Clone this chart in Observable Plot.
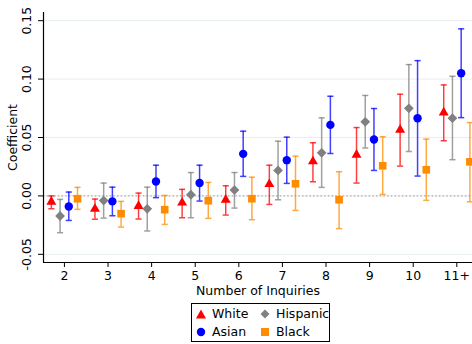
<!DOCTYPE html>
<html>
<head>
<meta charset="utf-8">
<script src="https://cdn.jsdelivr.net/npm/d3@7"></script>
<script src="https://cdn.jsdelivr.net/npm/@observablehq/plot@0.6"></script>
<style>
  body { margin: 0; background: white; font-family: "DejaVu Sans", sans-serif; }
  #wrap { width: 472px; height: 344px; position: relative; }
  #legend { position: absolute; left: 191px; top: 303px; width: 137px; height: 37px; border: 1px solid #000;
            font-size: 12.5px; color: #000; box-sizing: content-box; background: white; }
  .item { position: absolute; display: flex; align-items: center; height: 18px; line-height: 18px; }
  .item svg { margin-right: 5px; }
</style>
</head>
<body>
<div id="wrap"></div>
<script>
const categories = ["2", "3", "4", "5", "6", "7", "8", "9", "10", "11+"];
const groups = ["White", "Hispanic", "Asian", "Black"];
const colors = ["#ff0000", "#808080", "#0000ff", "#ff8c00"];
const symbols = ["triangle", "diamond2", "circle", "square"];

const whiteCoef = [-0.005, -0.011, -0.0087, -0.0058, -0.0033, 0.010, 0.0295, 0.0352, 0.0566, 0.0714];
const whiteLo   = [-0.011, -0.020, -0.0198, -0.0187, -0.0164, -0.0073, 0.0121, 0.011, 0.0255, 0.0472];
const whiteHi   = [0.000, -0.0027, 0.0024, 0.0056, 0.0087, 0.0263, 0.0455, 0.0585, 0.087, 0.095];

const hispCoef = [-0.0172, -0.004, -0.011, 0.001, 0.005, 0.0218, 0.0369, 0.0634, 0.075, 0.0665];
const hispLo   = [-0.0315, -0.019, -0.030, -0.0187, -0.0104, -0.0033, 0.0073, 0.041, 0.038, 0.031];
const hispHi   = [-0.003, 0.011, 0.0075, 0.020, 0.020, 0.0468, 0.0668, 0.086, 0.1124, 0.1024];

const asianCoef = [-0.009, -0.0047, 0.0124, 0.011, 0.036, 0.0306, 0.0608, 0.0483, 0.0665, 0.105];
const asianLo   = [-0.021, -0.017, -0.0015, -0.0044, 0.0167, 0.0107, 0.0363, 0.0218, 0.017, 0.067];
const asianHi   = [0.0033, 0.0075, 0.0263, 0.0263, 0.0554, 0.0503, 0.0853, 0.0748, 0.1158, 0.143];

const blackCoef = [-0.0024, -0.0152, -0.0118, -0.0041, -0.0024, 0.0104, -0.0033, 0.0258, 0.0224, 0.0292];
const blackLo   = [-0.0115, -0.0267, -0.0244, -0.0192, -0.0204, -0.0124, -0.028, 0.0013, -0.0038, -0.005];
const blackHi   = [0.0073, -0.0047, 0.0004, 0.0115, 0.016, 0.034, 0.0207, 0.0506, 0.0486, 0.0628];

const yTicks = [-0.05, 0, 0.05, 0.10, 0.15];

const series = [
  [whiteCoef, whiteLo, whiteHi],
  [hispCoef, hispLo, hispHi],
  [asianCoef, asianLo, asianHi],
  [blackCoef, blackLo, blackHi]
];
const offsets = [-0.3, -0.1, 0.1, 0.3];
const rows = [];
series.forEach(([c, lo, hi], g) => {
  categories.forEach((cat, i) => {
    rows.push({group: groups[g], gi: g, x: i + offsets[g], coef: c[i], lo: lo[i], hi: hi[i]});
  });
});

const xDom = [-0.48, 9.36];
const yDom = [-0.057, 0.157];
const cap = 0.07;
const radii = [3.7, 4.4, 4.2, 4.3];
const fmt = d => d3.format(".2f")(d).replace("\u2212", "-");

const marks = [
  Plot.gridY(yTicks, {stroke: "#e6efef", strokeOpacity: 1}),
  Plot.ruleY([0], {stroke: "#999", strokeDasharray: "1.5,2.2"}),
  Plot.axisY({ticks: yTicks, tickFormat: fmt, tickRotate: -90, tickSize: 5, tickPadding: 8,
              label: "Coefficient", labelAnchor: "center", labelArrow: "none", labelOffset: 35}),
  Plot.axisX({ticks: d3.range(categories.length), tickFormat: i => categories[i], tickSize: 5,
              label: "Number of Inquiries", labelAnchor: "center", labelArrow: "none", labelOffset: 32}),
  Plot.ruleY([yDom[0]], {stroke: "black", strokeWidth: 1.2}),
  Plot.ruleX([xDom[0]], {stroke: "black", strokeWidth: 1.2})
];
groups.forEach((g, gi) => {
  const d = rows.filter(r => r.gi === gi);
  marks.push(
    Plot.ruleX(d, {x: "x", y1: "lo", y2: "hi", stroke: colors[gi], strokeWidth: 1.5, strokeOpacity: 0.75}),
    Plot.link(d, {x1: r => r.x - cap, x2: r => r.x + cap, y1: "lo", y2: "lo", stroke: colors[gi], strokeWidth: 1.5, strokeOpacity: 0.75}),
    Plot.link(d, {x1: r => r.x - cap, x2: r => r.x + cap, y1: "hi", y2: "hi", stroke: colors[gi], strokeWidth: 1.5, strokeOpacity: 0.75}),
    Plot.dot(d, {x: "x", y: "coef", fill: colors[gi], symbol: () => symbols[gi], r: radii[gi], stroke: "none"})
  );
});

const chart = Plot.plot({
  width: 472, height: 300,
  marginTop: 12, marginBottom: 38, marginLeft: 43, marginRight: 0,
  style: {fontFamily: "DejaVu Sans", fontSize: "12.5px", background: "white", overflow: "visible", color: "black"},
  x: {type: "linear", domain: xDom},
  y: {domain: yDom},
  symbol: {type: "identity"},
  marks
});
const wrap = document.getElementById("wrap");
wrap.appendChild(chart);

// legend
const shapes = [
  '<path d="M6,1.5 L11,10.5 L1,10.5 Z"/>',
  '<path d="M6,1.5 L10.5,6 L6,10.5 L1.5,6 Z"/>',
  '<circle cx="6" cy="6" r="4.2"/>',
  '<rect x="2" y="2" width="8" height="8"/>'
];
const legend = document.createElement("div");
legend.id = "legend";
const layout = {White: [3, 1], Hispanic: [67, 1], Asian: [3, 19], Black: [67, 19]};
groups.forEach((g, gi) => {
  const item = document.createElement("div");
  item.className = "item";
  item.style.left = layout[g][0] + "px";
  item.style.top = layout[g][1] + "px";
  item.innerHTML = '<svg width="12" height="12" style="fill:' + colors[gi] + '">' + shapes[gi] + '</svg><span>' + g + '</span>';
  legend.appendChild(item);
});
wrap.appendChild(legend);
</script>
</body>
</html>
